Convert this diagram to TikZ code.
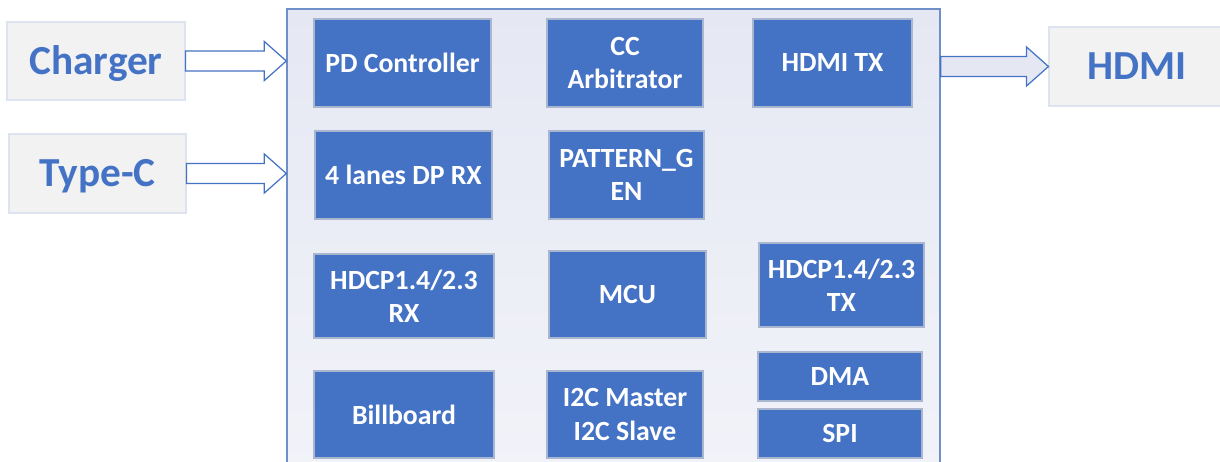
\documentclass[tikz,border=0pt]{standalone}
\usepackage{fontspec}
\setmainfont{Carlito}
\usetikzlibrary{positioning,calc}
\definecolor{blkblue}{HTML}{4472C4}
\definecolor{blkedge}{HTML}{A9B6CF}
\definecolor{portfill}{HTML}{F2F2F2}
\definecolor{portedge}{HTML}{DDE3EF}
\definecolor{chipedge}{HTML}{6F8FCB}
\definecolor{chiptop}{HTML}{E5E8F3}
\definecolor{chipbot}{HTML}{F2F3F9}
\newdimen\px \px=0.02cm

\tikzset{
  blk/.style={draw=blkedge, fill=blkblue, text=white, line width=0.6pt,
    font=\fontsize{15.8}{18.8}\selectfont\bfseries, align=center, inner sep=1pt},
  port/.style={draw=portedge, fill=portfill, text=blkblue, line width=0.6pt,
    font=\fontsize{23.5}{27}\selectfont\bfseries, inner sep=0pt,
    text height=15.1pt, text depth=0pt},
  chipbox/.style={draw=chipedge, line width=0.8pt, top color=chiptop, bottom color=chipbot},
  arrowline/.style={draw=blkblue, line width=0.7pt, line join=miter},
}

% hollow block arrow from #2 to the tip #3
\newcommand{\fatarrow}[3][white]{%
  \draw[arrowline, fill=#1] let \p1=(#2), \p2=(#3) in
    (\x1,\y1+5.7pt) -- (\x2-12.5pt,\y1+5.7pt) -- (\x2-12.5pt,\y1+11.1pt)
    -- (\x2,\y1) -- (\x2-12.5pt,\y1-11.1pt) -- (\x2-12.5pt,\y1-5.7pt)
    -- (\x1,\y1-5.7pt) -- cycle;}

\begin{document}
\begin{tikzpicture}[x=0.02cm,y=-0.02cm]
\useasboundingbox (0,0) rectangle (1220,462);

\node[chipbox, minimum width=653\px, minimum height=466\px] (chip) at (613.5,242) {};

% ports
\node[port, minimum width=178\px, minimum height=78\px] (charger) at (96,61) {Charger};
\node[port, minimum width=177\px, minimum height=79\px] (typec) at (97.5,173.5) {Type-C};
\node[port, minimum width=176\px, minimum height=79\px] (hdmi) at (1137,66.5) {HDMI};

% blocks
\node[blk, minimum width=177\px, minimum height=88\px] (pd) at (402.5,63) {PD Controller};
\node[blk, minimum width=156\px, minimum height=88\px] (cc) at (625,63) {CC\\Arbitrator};
\node[blk, minimum width=159\px, minimum height=88\px] (hdmitx) at (832.5,63) {HDMI TX};
\node[blk, minimum width=177\px, minimum height=88\px] (dprx) at (403.5,175) {4 lanes DP RX};
\node[blk, minimum width=155\px, minimum height=88\px] (patgen) at (626.5,175) {PATTERN\_G\\EN};
\node[blk, minimum width=180\px, minimum height=84\px] (hdcprx) at (404,296) {HDCP1.4/2.3\\RX};
\node[blk, minimum width=157\px, minimum height=87\px] (mcu) at (627.5,294.5) {MCU};
\node[blk, minimum width=165\px, minimum height=84\px] (hdcptx) at (841.5,285) {HDCP1.4/2.3\\TX};
\node[blk, minimum width=180\px, minimum height=87\px] (billboard) at (404,414.5) {Billboard};
\node[blk, minimum width=156\px, minimum height=87\px] (i2c) at (625,414.5) {I2C Master\\I2C Slave};
\node[blk, minimum width=164\px, minimum height=49\px] (dma) at (840,376.5) {DMA};
\node[blk, minimum width=164\px, minimum height=49\px] (spi) at (840,433.5) {SPI};

% arrows
\fatarrow{charger.east}{chip.west |- charger.east}
\fatarrow{typec.east}{chip.west |- typec.east}
\fatarrow[chiptop]{chip.east |- hdmi.west}{hdmi.west}

\end{tikzpicture}
\end{document}
